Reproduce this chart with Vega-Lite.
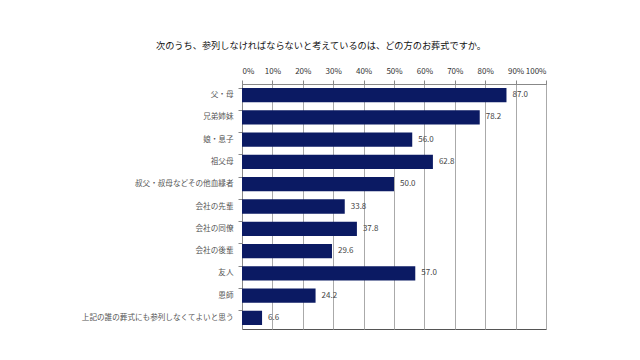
{
  "$schema": "https://vega.github.io/schema/vega-lite/v6.json",
  "width": 304,
  "height": 245,
  "autosize": {"type": "none"},
  "padding": {"left": 242, "top": 84, "right": 94, "bottom": 31},
  "background": "white",
  "title": {
    "text": "次のうち、参列しなければならないと考えているのは、どの方のお葬式ですか。",
    "anchor": "middle",
    "frame": "group",
    "dx": -73,
    "offset": 16,
    "fontSize": 9.2,
    "fontWeight": "normal",
    "color": "#111111",
    "font": "Noto Sans CJK JP"
  },
  "config": {
    "font": "Noto Sans CJK JP",
    "view": {"stroke": "#555555", "strokeWidth": 1}
  },
  "data": {
    "values": [
      {"cat": "父・母", "v": 87.0},
      {"cat": "兄弟姉妹", "v": 78.2},
      {"cat": "娘・息子", "v": 56.0},
      {"cat": "祖父母", "v": 62.8},
      {"cat": "叔父・叔母などその他血縁者", "v": 50.0},
      {"cat": "会社の先輩", "v": 33.8},
      {"cat": "会社の同僚", "v": 37.8},
      {"cat": "会社の後輩", "v": 29.6},
      {"cat": "友人", "v": 57.0},
      {"cat": "恩師", "v": 24.2},
      {"cat": "上記の誰の葬式にも参列しなくてよいと思う", "v": 6.6}
    ]
  },
  "encoding": {
    "y": {
      "field": "cat",
      "type": "nominal",
      "sort": null,
      "title": null,
      "scale": {"paddingInner": 0.36, "paddingOuter": 0.18},
      "axis": {
        "labelFontSize": 7.6,
        "labelColor": "#555555",
        "labelPadding": 5,
        "domainColor": "#888888",
        "tickColor": "#888888",
        "tickSize": 4,
        "bandPosition": 0,
        "labelLimit": 240
      }
    },
    "x": {
      "field": "v",
      "type": "quantitative",
      "title": null,
      "scale": {"domain": [0, 100], "nice": false},
      "axis": {
        "orient": "top",
        "values": [0, 10, 20, 30, 40, 50, 60, 70, 80, 90, 100],
        "labelExpr": "datum.value + '%'",
        "labelOverlap": false,
        "labelFontSize": 8,
        "labelColor": "#333333",
        "labelPadding": 5,
        "grid": true,
        "gridColor": "#aaaaaa",
        "domainColor": "#888888",
        "tickColor": "#888888",
        "tickSize": 4
      }
    }
  },
  "layer": [
    {"mark": {"type": "bar", "color": "#0b1a63"}},
    {
      "mark": {"type": "text", "align": "left", "dx": 6, "fontSize": 8, "color": "#444444"},
      "encoding": {"text": {"field": "v", "type": "quantitative", "format": ".1f"}}
    }
  ]
}
